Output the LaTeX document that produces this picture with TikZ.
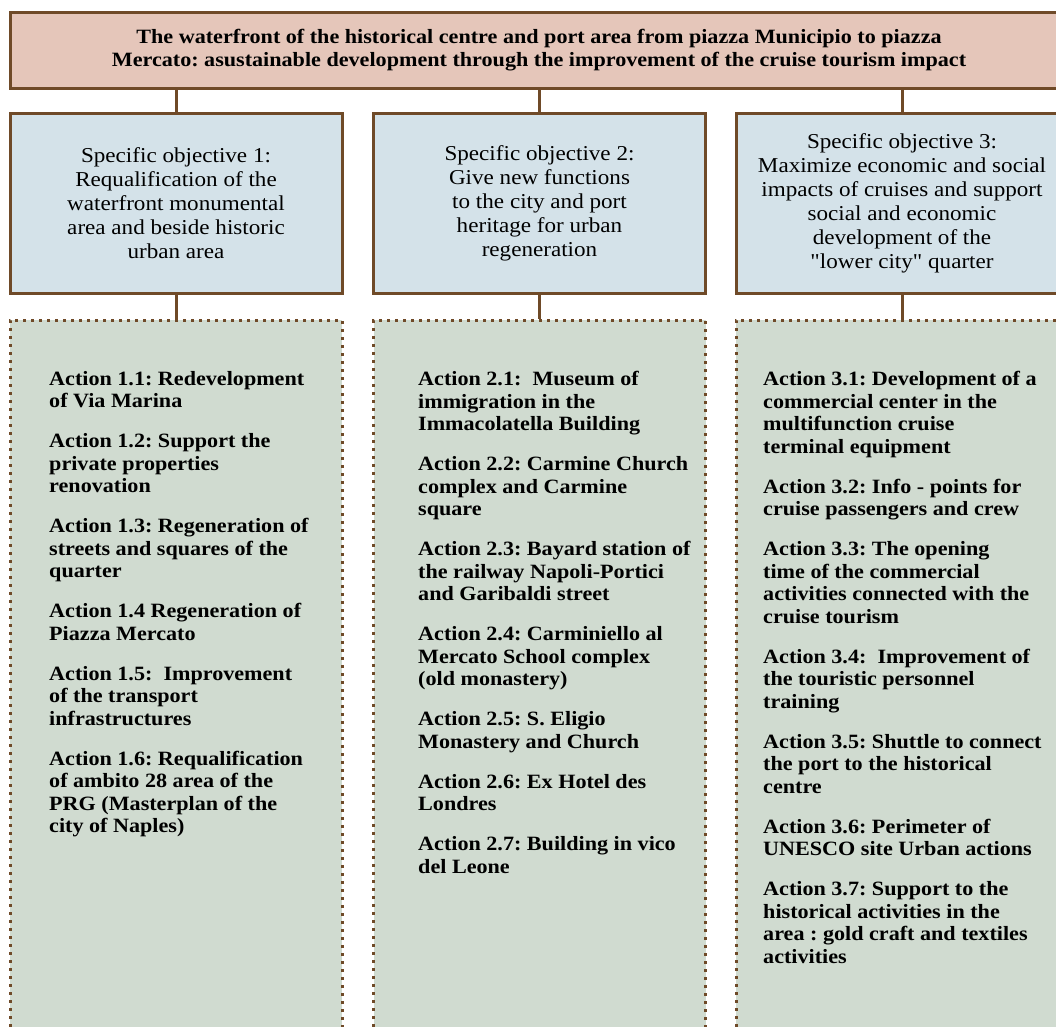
\documentclass[tikz,border=0pt]{standalone}
\usepackage{fontspec}
\setmainfont[FakeStretch=1.09]{Liberation Serif}
\newfontfamily\qfont[FakeStretch=1.09,Ligatures=TeXOff]{Liberation Serif}
\frenchspacing
\definecolor{brd}{RGB}{111,74,40}
\definecolor{hdrfill}{RGB}{229,198,186}
\definecolor{objfill}{RGB}{212,226,233}
\definecolor{actfill}{RGB}{208,219,208}
\tikzset{
  hdrbox/.style={draw=brd, line width=3pt, fill=hdrfill, minimum width=1058pt, minimum height=76pt, inner sep=0pt, align=center, font=\fontsize{20.3}{23}\selectfont\bfseries},
  objbox/.style={draw=brd, line width=3pt, fill=objfill, minimum width=332pt, minimum height=180pt, inner sep=0pt, align=center, font=\fontsize{21.2}{24}\selectfont},
  actbox/.style={draw=brd, line width=3pt, dash pattern=on 3pt off 5pt, fill=actfill, minimum width=332pt, minimum height=720pt, inner sep=0pt},
  acttext/.style={anchor=north west, inner sep=0pt, align=left, font=\fontsize{20.3}{22.5}\selectfont\bfseries},
  conn/.style={draw=brd, line width=3pt}
}
\begin{document}
\begin{tikzpicture}[x=1pt,y=-1pt]
\useasboundingbox (0,0) rectangle (1056,1026);
\clip (0,0) rectangle (1056,1026);
\node[hdrbox] (top) at (539,50) {The waterfront of the historical centre and port area from piazza Municipio to piazza\\Mercato: asustainable development through the improvement of the cruise tourism impact};
\node[objbox] (o1) at (176,203) {Specific objective 1:\\Requalification of the\\waterfront monumental\\area and beside historic\\urban area};
\node[objbox] (o2) at (539.5,203) {Specific objective 2:\\Give new functions\\to the city and port\\heritage for urban\\regeneration};
\node[objbox] (o3) at (902,203) {Specific objective 3:\\Maximize economic and social\\impacts of cruises and support\\social and economic\\development of the\\{\qfont"}lower city{\qfont"} quarter};
\node[actbox] (a1) at (176,680) {};
\node[actbox] (a2) at (539.5,680) {};
\node[actbox] (a3) at (902,680) {};
\draw[conn] (top.south -| o1.north) -- (o1.north);
\draw[conn] (top.south -| o2.north) -- (o2.north);
\draw[conn] (top.south -| o3.north) -- (o3.north);
\draw[conn] (o1.south) -- (a1.north);
\draw[conn] (o2.south) -- (a2.north);
\draw[conn] (o3.south) -- (a3.north);
\node[acttext] (t1) at (49,371) {Action 1.1: Redevelopment\\of Via Marina\\[17.5pt]
Action 1.2: Support the\\private properties\\renovation\\[17.5pt]
Action 1.3: Regeneration of\\streets and squares of the\\quarter\\[17.5pt]
Action 1.4 Regeneration of\\Piazza Mercato\\[17.5pt]
Action 1.5:\ \ Improvement\\of the transport\\infrastructures\\[17.5pt]
Action 1.6: Requalification\\of ambito 28 area of the\\PRG (Masterplan of the\\city of Naples)};
\node[acttext] (t2) at (418,371) {Action 2.1:\ \ Museum of\\immigration in the\\Immacolatella Building\\[17.5pt]
Action 2.2: Carmine Church\\complex and Carmine\\square\\[17.5pt]
Action 2.3: Bayard station of\\the railway Napoli-Portici\\and Garibaldi street\\[17.5pt]
Action 2.4: Carminiello al\\Mercato School complex\\(old monastery)\\[17.5pt]
Action 2.5: S. Eligio\\Monastery and Church\\[17.5pt]
Action 2.6: Ex Hotel des\\Londres\\[17.5pt]
Action 2.7: Building in vico\\del Leone};
\node[acttext] (t3) at (763,371) {Action 3.1: Development of a\\commercial center in the\\multifunction cruise\\terminal equipment\\[17.5pt]
Action 3.2: Info - points for\\cruise passengers and crew\\[17.5pt]
Action 3.3: The opening\\time of the commercial\\activities connected with the\\cruise tourism\\[17.5pt]
Action 3.4:\ \ Improvement of\\the touristic personnel\\training\\[17.5pt]
Action 3.5: Shuttle to connect\\the port to the historical\\centre\\[17.5pt]
Action 3.6: Perimeter of\\UNESCO site Urban actions\\[17.5pt]
Action 3.7: Support to the\\historical activities in the\\area : gold craft and textiles\\activities};
\end{tikzpicture}
\end{document}
